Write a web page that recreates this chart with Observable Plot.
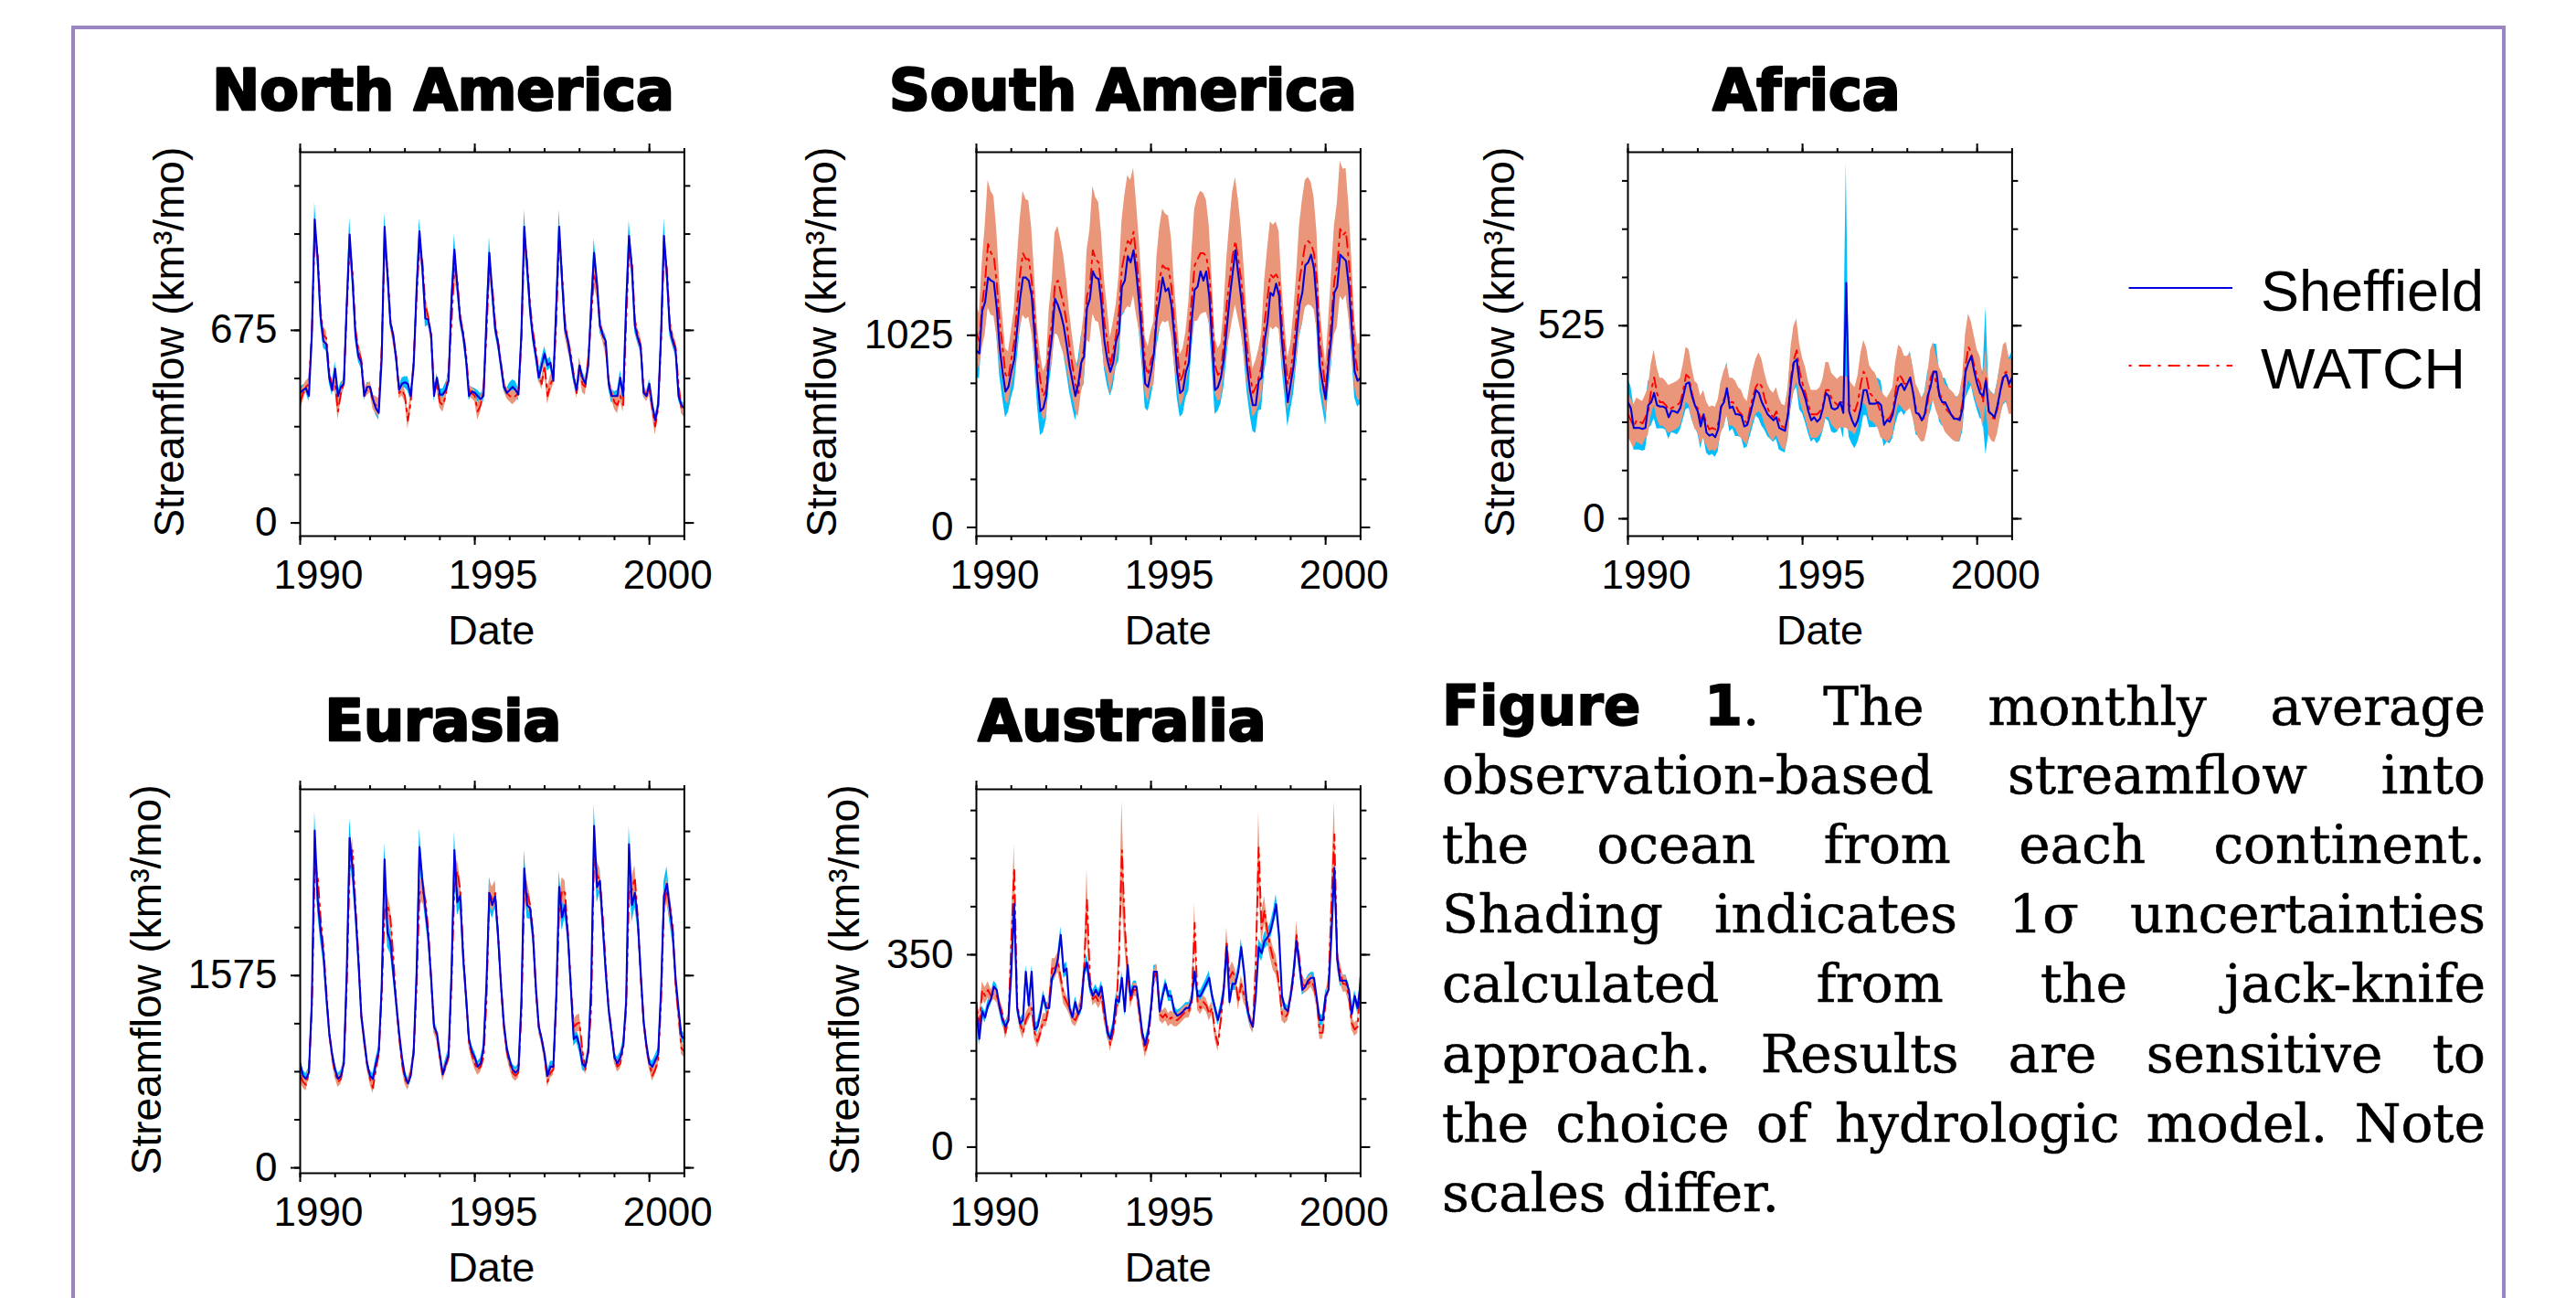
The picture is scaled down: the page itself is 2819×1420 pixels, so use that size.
<!DOCTYPE html>
<html><head><meta charset="utf-8">
<script src="https://cdn.jsdelivr.net/npm/d3@7"></script>
<script src="https://cdn.jsdelivr.net/npm/@observablehq/plot@0.6"></script>
<style>
html,body{margin:0;padding:0;background:#fff;}
#page{position:relative;width:2819px;height:1420px;overflow:hidden;background:#fff;}
.box{position:absolute;left:78px;top:28px;width:2664px;height:1500px;border:4.5px solid #9a84c2;box-sizing:border-box;}
.panel{position:absolute;}
.panel svg{max-width:none;display:block;}
#caption{position:absolute;left:1578px;top:733.6px;width:1142px;font-family:"DejaVu Serif",serif;font-size:58px;color:#000;-webkit-text-stroke:0.6px #000;}
#caption .ln{display:flex;justify-content:space-between;align-items:baseline;height:76.2px;line-height:76.2px;white-space:nowrap;}
#caption .ln.last{display:block;}
#caption .fig{font-family:"DejaVu Sans",sans-serif;font-weight:bold;font-size:60px;-webkit-text-stroke:1.6px #000;}
#overlay{position:absolute;left:0;top:0;pointer-events:none;}
</style></head>
<body><div id="page"><div class="box"></div>
<div id="caption">
<div class="ln"><span class="fig">Figure</span><span><span class="fig">1</span>.</span><span>The</span><span>monthly</span><span>average</span></div>
<div class="ln"><span>observation-based</span><span>streamflow</span><span>into</span></div>
<div class="ln"><span>the</span><span>ocean</span><span>from</span><span>each</span><span>continent.</span></div>
<div class="ln"><span>Shading</span><span>indicates</span><span>1σ</span><span>uncertainties</span></div>
<div class="ln"><span>calculated</span><span>from</span><span>the</span><span>jack-knife</span></div>
<div class="ln"><span>approach.</span><span>Results</span><span>are</span><span>sensitive</span><span>to</span></div>
<div class="ln"><span>the</span><span>choice</span><span>of</span><span>hydrologic</span><span>model.</span><span>Note</span></div>
<div class="ln last">scales differ.</div>
</div>
</div>
<script>
// ---------- DATA (monthly, Jan 1990 - Jan 2001, km^3/mo) ----------
const startYear = 1990;
const xMajorTicks = [1990, 1995, 2000];
const xMinorTicks = [1990, 1991, 1992, 1993, 1994, 1995, 1996, 1997, 1998, 1999, 2000, 2001];
const seriesNames = ["Sheffield", "WATCH"];
const panelTitles = ["North America", "South America", "Africa", "Eurasia", "Australia"];

// North America
const naYMajor = [0, 675];
const naYMinor = [0, 168.75, 337.5, 506.25, 675, 843.75, 1012.5, 1181.25];
const naSheffield = [
 456,466,472,445,658,1064,926,723,637,627,509,466,
 541,445,477,488,765,1011,851,659,584,562,445,477,
 477,434,402,386,573,1038,872,701,659,573,466,488,
 493,487,445,552,819,1022,893,717,712,659,445,509,
 450,450,466,498,787,958,830,712,659,573,445,461,
 456,445,434,445,712,947,808,680,627,552,477,456,
 466,477,466,450,659,1038,893,744,648,584,509,552,
 594,552,562,498,765,1038,851,680,637,573,509,466,
 552,509,488,552,765,947,840,691,659,637,488,445,
 445,445,509,445,765,1006,893,691,648,616,456,445,
 488,413,360,413,659,1006,872,680,637,605,445,413,
 402];
const naSheffieldSd = [
 20,18,15,20,25,60,35,30,25,25,20,20,
 25,20,15,15,30,60,35,25,20,20,15,15,
 15,20,25,25,30,50,30,20,20,20,15,20,
 20,25,20,15,30,45,30,30,20,20,20,15,
 20,20,25,20,30,55,35,20,20,20,15,15,
 15,20,20,20,30,55,30,20,20,20,15,15,
 25,25,30,20,30,60,35,25,20,20,20,25,
 25,20,20,20,30,60,35,25,20,20,20,20,
 20,20,20,20,30,50,40,25,20,20,20,25,
 15,20,25,25,30,55,35,25,20,20,15,15,
 15,20,20,15,30,60,35,25,20,20,15,15,
 15];
const naWatch = [
 423,455,477,487,658,1022,947,744,658,648,530,477,
 487,391,455,487,744,979,872,680,605,573,455,466,
 477,423,413,402,605,979,893,712,648,584,455,466,
 445,359,423,573,786,979,915,765,722,658,466,487,
 423,413,445,530,701,893,851,722,669,594,466,455,
 445,391,413,466,658,904,829,701,637,562,487,455,
 445,439,445,455,637,1000,915,765,669,605,519,487,
 552,445,487,509,701,1011,872,701,637,594,519,455,
 552,487,477,573,722,872,829,701,658,616,498,455,
 423,413,445,413,701,958,915,712,658,626,466,445,
 466,402,338,402,637,958,893,701,648,616,487,402,
 391];
const naWatchSd = [
 35,25,20,20,25,40,35,30,30,25,20,20,
 25,30,20,20,30,45,30,25,25,25,20,20,
 20,25,30,35,30,40,30,25,25,20,20,20,
 20,30,25,20,30,45,30,30,25,25,20,20,
 20,25,20,20,30,45,40,25,25,25,20,20,
 20,30,25,20,30,40,30,25,25,25,20,20,
 20,25,20,20,30,40,30,25,25,25,20,20,
 25,30,30,25,30,40,35,45,35,25,20,20,
 30,30,30,25,30,45,40,25,25,25,20,20,
 25,30,20,25,30,40,35,25,25,25,20,20,
 20,25,30,25,30,40,35,30,25,20,20,20,
 20];

// South America
const saYMajor = [0, 1025];
const saYMinor = [0, 256.25, 512.5, 768.75, 1025, 1281.25, 1537.5, 1793.75];
const saSheffield = [
 944,928,1155,1203,1333,1317,1309,1171,960,830,725,749,
 830,895,1058,1220,1333,1333,1317,1236,1025,782,620,636,
 701,895,1025,1220,1187,1139,1074,976,863,782,701,766,
 879,912,1171,1220,1366,1333,1325,1187,993,895,830,879,
 993,1041,1285,1317,1447,1414,1479,1350,1187,993,766,749,
 830,928,1122,1220,1333,1260,1276,1187,1025,830,717,733,
 830,879,1106,1268,1285,1366,1317,1366,1236,993,733,749,
 798,895,1058,1220,1350,1479,1350,1220,1058,863,733,652,
 652,782,798,993,1090,1252,1236,1301,1236,993,830,668,
 766,863,1025,1187,1252,1398,1414,1455,1382,1187,863,766,
 684,879,1025,1252,1285,1455,1439,1422,1285,1058,830,782,
 798];
const saSheffieldSd = [
 140,135,140,145,150,130,140,150,150,140,140,135,
 140,150,160,170,175,175,170,160,150,140,130,130,
 130,140,150,160,160,150,150,150,140,140,130,130,
 140,150,160,170,170,170,160,160,150,140,130,130,
 140,150,160,170,170,170,170,160,150,140,130,130,
 140,150,160,170,170,170,160,150,150,140,130,130,
 140,150,160,170,175,175,170,160,150,140,130,130,
 140,150,160,170,170,170,170,160,150,140,130,140,
 150,160,170,170,170,170,160,160,150,140,130,130,
 140,150,160,170,170,170,170,160,150,140,130,130,
 140,150,160,170,170,170,170,160,150,140,140,140,
 140];
const saWatch = [
 1041,993,1187,1317,1512,1463,1447,1301,1090,960,814,798,
 895,993,1187,1350,1463,1431,1431,1317,1122,895,782,701,
 733,993,1090,1301,1317,1252,1187,1090,960,863,766,717,
 863,960,1236,1285,1479,1431,1414,1285,1090,993,863,944,
 1025,1155,1382,1463,1528,1512,1577,1431,1285,1090,863,814,
 895,928,1220,1333,1398,1382,1382,1285,1090,944,782,814,
 895,1025,1220,1398,1431,1463,1463,1447,1350,1122,863,814,
 830,976,1187,1317,1447,1528,1431,1317,1155,960,830,717,
 749,798,863,1090,1220,1350,1333,1350,1317,1090,928,766,
 830,960,1122,1317,1414,1512,1528,1512,1463,1317,993,863,
 733,928,1122,1317,1398,1593,1560,1577,1414,1187,928,830,
 830];
const saWatchSd = [
 140,150,230,290,340,330,320,280,220,170,140,140,
 150,170,230,290,330,320,310,280,220,170,140,130,
 140,170,220,270,290,280,260,230,190,160,140,130,
 150,180,240,300,340,330,320,280,230,180,150,150,
 160,190,250,310,350,340,340,300,240,190,150,150,
 150,170,220,270,300,290,280,260,220,170,140,140,
 150,180,240,300,330,330,320,300,260,200,150,140,
 150,180,240,300,340,340,320,280,230,180,150,130,
 140,150,170,220,260,280,280,280,260,200,160,140,
 150,180,230,290,330,340,340,330,300,260,190,160,
 140,170,230,290,330,360,350,340,300,240,180,150,
 150];

// Africa
const afYMajor = [0, 525];
const afYMinor = [0, 131.25, 262.5, 393.75, 525, 656.25, 787.5, 918.75];
const afSheffield = [
 317,301,247,247,247,244,247,309,317,342,309,305,
 305,301,276,294,292,288,301,334,367,371,334,309,
 292,251,284,234,226,230,222,243,305,317,355,301,
 305,284,284,280,251,255,284,317,350,342,317,301,
 284,276,268,276,247,243,239,284,367,425,433,367,
 350,326,292,268,276,264,272,301,342,334,301,297,
 301,317,288,641,292,268,251,268,301,350,350,313,
 313,313,317,309,255,268,264,284,326,359,367,350,
 367,384,342,288,284,268,284,334,359,400,400,334,
 317,317,301,284,272,272,268,301,400,425,442,400,
 367,342,334,375,292,284,276,309,350,384,392,367,
 384];
const afSheffieldSd = [
 60,60,60,60,60,60,60,65,65,70,65,60,
 60,60,60,60,60,60,60,65,70,70,65,60,
 60,60,60,55,55,55,55,60,65,70,70,65,
 60,60,60,60,60,60,60,65,70,70,65,60,
 60,60,60,60,60,60,60,65,70,80,75,70,
 65,65,60,60,60,60,60,65,70,70,65,65,
 65,65,70,330,70,65,60,60,65,70,70,65,
 65,65,65,65,60,60,60,65,70,75,75,70,
 70,70,65,60,60,60,60,65,70,75,75,70,
 65,65,60,60,60,60,60,65,75,80,80,75,
 70,70,65,200,60,60,60,65,70,75,75,70,
 70];
const afWatch = [
 284,268,251,268,264,259,276,292,350,384,342,317,
 317,309,297,301,305,309,317,350,392,384,342,309,
 301,268,284,259,243,247,243,259,301,326,350,317,
 317,309,292,284,268,259,301,334,359,371,359,326,
 301,284,276,292,268,251,247,284,384,433,458,400,
 367,342,309,284,284,284,292,309,350,350,326,317,
 309,317,317,317,309,301,292,317,367,400,384,342,
 334,326,309,284,276,268,276,292,350,392,384,367,
 367,375,342,301,284,268,276,317,384,400,367,342,
 326,301,292,284,276,268,276,317,417,467,450,417,
 384,367,317,384,292,276,272,301,350,392,400,359,
 359];
const afWatchSd = [
 60,60,60,60,60,60,60,65,70,75,70,65,
 65,65,65,65,65,65,65,70,75,75,70,65,
 65,65,65,60,60,60,60,65,70,75,70,65,
 65,65,65,65,60,60,65,70,75,80,75,70,
 65,65,65,65,60,60,60,70,80,90,85,75,
 70,70,65,65,65,65,65,70,75,75,70,70,
 70,70,70,70,70,65,65,70,80,85,80,75,
 70,70,65,65,60,60,65,65,75,80,80,75,
 75,75,70,65,65,60,65,70,75,80,75,70,
 70,65,65,65,65,60,65,70,85,90,85,80,
 75,75,70,75,65,65,65,70,75,80,80,75,
 75];

// Eurasia
const euYMajor = [0, 1575];
const euYMinor = [0, 393.75, 787.5, 1181.25, 1575, 1968.75, 2362.5, 2756.25];
const euSheffield = [
 854,754,729,779,1354,2764,2200,1950,1750,1400,1104,929,
 804,729,754,854,1603,2702,2450,2100,1700,1250,1054,854,
 754,729,854,954,1478,2527,1928,1853,1600,1354,1104,900,
 754,692,754,954,1600,2627,2352,2127,1900,1553,1154,1104,
 929,767,850,929,1600,2602,2177,2227,1728,1404,1054,954,
 904,829,854,979,1503,2252,2152,2227,1903,1503,1179,979,
 879,804,779,804,1354,2452,2152,2127,1903,1478,1154,1054,
 929,754,829,829,1404,2302,2052,2152,1903,1478,1054,1079,
 1000,850,829,954,1500,2801,2300,2352,1978,1603,1300,1104,
 904,854,904,1004,1354,2652,2152,2252,2027,1603,1204,1004,
 854,829,879,929,1453,2227,2327,2127,1928,1553,1304,1079,
 1054];
const euSheffieldSd = [
 50,45,45,45,60,160,110,100,80,60,50,45,
 45,45,45,45,60,160,110,90,70,60,50,45,
 45,45,45,45,60,140,120,100,70,60,50,45,
 45,45,45,45,60,150,110,90,70,60,50,45,
 45,45,45,45,60,150,110,100,70,60,50,45,
 45,45,45,45,60,130,110,100,70,60,50,45,
 45,45,45,45,60,150,110,90,70,60,50,45,
 45,45,45,45,60,130,110,100,70,60,60,50,
 60,50,45,45,60,180,130,100,70,60,50,45,
 45,50,45,45,60,150,140,120,80,60,50,45,
 45,45,45,50,60,120,140,120,90,70,50,45,
 45];
const euWatch = [
 754,704,679,779,1304,2452,2400,2050,1800,1450,1104,904,
 779,704,729,854,1478,2450,2602,2150,1750,1250,1029,854,
 729,654,804,929,1404,2102,2152,2052,1728,1354,1079,854,
 729,679,779,929,1478,2252,2277,2202,1953,1553,1154,1079,
 904,754,829,904,1503,2302,2427,2277,1778,1404,1029,929,
 854,804,829,904,1354,2252,2202,2252,1928,1503,1154,954,
 854,779,754,779,1254,2277,2252,2152,1928,1453,1154,1054,
 904,704,779,804,1354,2102,2277,2252,1928,1503,1154,1179,
 1190,954,804,954,1303,2602,2402,2352,2052,1654,1304,1129,
 904,829,854,979,1304,2252,2277,2377,2052,1578,1204,979,
 854,754,804,879,1354,2152,2277,2152,1978,1503,1254,979,
 954];
const euWatchSd = [
 50,50,50,45,60,100,90,80,70,60,50,45,
 45,45,45,45,60,100,100,80,70,60,50,45,
 45,45,45,45,60,100,90,90,70,60,50,45,
 45,45,45,45,60,100,100,90,70,60,50,45,
 45,45,45,45,60,100,100,90,70,60,50,45,
 45,45,45,45,60,100,100,100,70,60,50,45,
 45,45,45,45,60,100,100,80,70,60,50,45,
 45,45,45,45,60,100,100,100,70,60,60,70,
 70,60,45,45,60,110,110,100,80,60,50,45,
 45,45,45,45,60,100,110,100,80,60,50,45,
 45,45,45,45,60,100,110,100,90,70,60,50,
 50];

// Australia
const auYMajor = [0, 350];
const auYMinor = [0, 87.5, 175, 262.5, 350, 437.5, 525, 612.5];
const auSheffield = [
 247,197,247,236,258,269,292,286,253,231,219,231,
 319,442,253,225,231,319,258,319,214,219,242,275,
 253,253,308,319,342,386,319,325,253,236,264,242,
 253,319,336,292,275,286,275,292,253,208,197,219,
 269,264,308,247,331,275,292,292,253,208,186,208,
 253,319,319,247,275,297,275,275,247,239,242,247,
 253,253,269,319,275,275,286,297,308,275,253,231,
 253,286,364,264,297,297,319,364,319,253,231,219,
 275,364,353,375,381,392,414,442,386,275,253,247,
 275,319,375,331,286,292,303,308,308,269,231,231,
 275,286,386,508,342,303,303,303,286,242,275,253,
 297];
const auSheffieldSd = [
 12,12,10,10,10,10,10,10,10,10,10,10,
 15,25,10,10,10,12,10,12,10,10,10,10,
 10,10,10,12,12,15,12,12,10,10,10,10,
 10,12,15,10,10,10,10,10,10,10,10,10,
 10,10,12,10,12,10,10,10,10,10,10,10,
 10,12,12,10,10,10,10,10,10,10,10,10,
 10,10,10,12,10,10,10,10,12,10,10,10,
 10,10,15,10,12,12,12,15,12,10,10,10,
 12,15,15,15,15,15,15,18,15,10,10,10,
 10,12,15,12,10,10,10,10,10,10,10,10,
 10,10,15,25,12,10,10,10,10,10,10,10,
 10];
const auWatch = [
 264,219,286,275,286,275,281,275,258,242,208,231,
 375,508,264,225,208,231,242,253,208,192,208,231,
 231,264,325,325,336,308,275,264,253,236,231,242,
 264,319,450,308,269,275,264,275,236,219,186,208,
 242,342,540,403,319,264,286,286,242,203,175,192,
 247,308,319,242,236,242,231,236,231,231,236,242,
 247,247,264,408,264,253,264,258,242,253,208,186,
 231,286,375,308,319,308,264,297,275,264,231,219,
 331,545,397,431,392,364,342,331,297,242,236,242,
 275,308,386,342,297,292,297,303,292,264,208,208,
 264,297,442,569,342,319,297,297,275,225,214,219,
 314];
const auWatchSd = [
 15,15,15,15,15,12,12,12,12,12,12,12,
 25,42,15,12,12,12,12,12,12,12,12,12,
 12,15,18,18,18,15,15,12,12,12,12,12,
 12,20,55,15,12,12,12,12,12,12,12,12,
 15,30,90,40,15,12,12,12,12,12,12,12,
 12,15,15,12,12,12,12,12,12,12,12,12,
 12,12,15,35,15,12,12,12,12,12,12,12,
 12,15,25,18,18,15,15,15,15,12,12,12,
 20,65,30,25,20,20,20,18,15,12,12,12,
 12,15,25,18,15,12,12,12,12,12,12,12,
 12,15,30,60,20,18,15,15,12,12,12,12,
 12];

// ---------- LAYOUT ----------
const COL = {sheffield: "#0000dd", watch: "#ff0000", sheffieldBand: "#00bfff", watchBand: "#e9967a"};
const DASH = "12,6,3,6";
const FW = 420.4, FH = 420, ML = 160, MR = 50, MT = 20, MB = 80;

const panels = [
  {title: panelTitles[0], fx: 327.6, fy: 166, yDomain: [-46.1, 1299.4], yMajor: naYMajor, yMinor: naYMinor, s: naSheffield, ss: naSheffieldSd, w: naWatch, ws: naWatchSd, tx: 485, ty: 120.3, lx: 201, ly: 374.2, dy: 704.8},
  {title: panelTitles[1], fx: 1068, fy: 166, yDomain: [-46.3, 2001.8], yMajor: saYMajor, yMinor: saYMinor, s: saSheffield, ss: saSheffieldSd, w: saWatch, ws: saWatchSd, tx: 1229, ty: 120.3, lx: 915, ly: 374.2, dy: 704.8},
  {title: panelTitles[2], fx: 1781.4, fy: 166, yDomain: [-47.2, 996.8], yMajor: afYMajor, yMinor: afYMinor, s: afSheffield, ss: afSheffieldSd, w: afWatch, ws: afWatchSd, tx: 1977, ty: 120.3, lx: 1657, ly: 374.2, dy: 704.8},
  {title: panelTitles[3], fx: 327.6, fy: 863, yDomain: [-44.2, 3101], yMajor: euYMajor, yMinor: euYMinor, s: euSheffield, ss: euSheffieldSd, w: euWatch, ws: euWatchSd, tx: 485, ty: 810.2, lx: 176, ly: 1071.9, dy: 1401.6},
  {title: panelTitles[4], fx: 1068, fy: 863, yDomain: [-47.5, 651], yMajor: auYMajor, yMinor: auYMinor, s: auSheffield, ss: auSheffieldSd, w: auWatch, ws: auWatchSd, tx: 1228, ty: 810.2, lx: 940, ly: 1071.9, dy: 1401.6}
];

const page = document.getElementById("page");
const blank = () => "";

for (const p of panels) {
  const data = p.s.map((v, i) => ({t: startYear + i / 12, s: v, ss: p.ss[i], w: p.w[i], ws: p.ws[i]}));
  const chart = Plot.plot({
    width: ML + FW + MR, height: MT + FH + MB,
    marginLeft: ML, marginRight: MR, marginTop: MT, marginBottom: MB,
    x: {domain: [1990, 2001], label: null},
    y: {domain: p.yDomain, label: null},
    style: {fontFamily: "'Liberation Sans', Arial, sans-serif", fontSize: "44px", color: "black", background: "transparent", overflow: "visible"},
    marks: [
      Plot.areaY(data, {x: "t", y1: d => d.s - d.ss, y2: d => d.s + d.ss, fill: COL.sheffieldBand, clip: true}),
      Plot.areaY(data, {x: "t", y1: d => d.w - d.ws, y2: d => d.w + d.ws, fill: COL.watchBand, clip: true}),
      Plot.lineY(data, {x: "t", y: "w", stroke: COL.watch, strokeWidth: 1.9, strokeDasharray: DASH, clip: true}),
      Plot.lineY(data, {x: "t", y: "s", stroke: COL.sheffield, strokeWidth: 2.1, clip: true}),
      Plot.axisX({anchor: "bottom", ticks: xMinorTicks, tickSize: 5, tickFormat: blank, strokeWidth: 2, label: null}),
      Plot.axisX({anchor: "top", ticks: xMinorTicks, tickSize: 5, tickFormat: blank, strokeWidth: 2, label: null}),
      Plot.axisX({anchor: "bottom", ticks: xMajorTicks, tickSize: 10, tickFormat: blank, strokeWidth: 2, label: null}),
      Plot.axisX({anchor: "bottom", ticks: xMajorTicks, tickSize: 0, tickPadding: 26, dx: 20, tickFormat: d => String(d), label: null}),
      Plot.axisX({anchor: "top", ticks: xMajorTicks, tickSize: 10, tickFormat: blank, strokeWidth: 2, label: null}),
      Plot.axisY({anchor: "left", ticks: p.yMinor, tickSize: 6, tickFormat: blank, strokeWidth: 2, label: null}),
      Plot.axisY({anchor: "right", ticks: p.yMinor, tickSize: 6, tickFormat: blank, strokeWidth: 2, label: null}),
      Plot.axisY({anchor: "left", ticks: p.yMajor, tickSize: 10, tickPadding: 15, tickFormat: d => String(d), strokeWidth: 2, label: null}),
      Plot.axisY({anchor: "right", ticks: p.yMajor, tickSize: 10, tickFormat: blank, strokeWidth: 2, label: null}),
      Plot.frame({stroke: "black", strokeWidth: 2})
    ]
  });
  const div = document.createElement("div");
  div.className = "panel";
  div.style.left = (p.fx - ML) + "px";
  div.style.top = (p.fy - MT) + "px";
  div.appendChild(chart);
  page.appendChild(div);
}

// ---------- TEXT OVERLAY (titles, axis labels, legend) ----------
const NS = "http://www.w3.org/2000/svg";
const ov = document.createElementNS(NS, "svg");
ov.setAttribute("id", "overlay");
ov.setAttribute("width", 2819);
ov.setAttribute("height", 1420);
function txt(x, y, s, attrs) {
  const t = document.createElementNS(NS, "text");
  t.setAttribute("x", x); t.setAttribute("y", y);
  for (const k in attrs) t.setAttribute(k, attrs[k]);
  t.textContent = s;
  ov.appendChild(t);
  return t;
}
const sans = "'Liberation Sans', Arial, sans-serif";
for (const p of panels) {
  txt(p.tx, p.ty, p.title, {"text-anchor": "middle", "font-family": "'DejaVu Sans', sans-serif", "font-weight": "bold", "font-size": 62, stroke: "#000", "stroke-width": 2.6, "stroke-linejoin": "round"});
  txt(0, 0, "Streamflow (km³/mo)", {"text-anchor": "middle", "font-family": sans, "font-size": 46, transform: `translate(${p.lx},${p.ly}) rotate(-90)`});
  txt(p.fx + FW / 2, p.dy, "Date", {"text-anchor": "middle", "font-family": sans, "font-size": 45});
}
// legend
const legendRows = [
  {name: seriesNames[0], y: 315, base: 340, stroke: COL.sheffield, dash: null},
  {name: seriesNames[1], y: 400, base: 425, stroke: COL.watch, dash: "3,8,13,8"}
];
for (const r of legendRows) {
  const l = document.createElementNS(NS, "line");
  l.setAttribute("x1", 2329.6); l.setAttribute("x2", 2443);
  l.setAttribute("y1", r.y); l.setAttribute("y2", r.y);
  l.setAttribute("stroke", r.stroke); l.setAttribute("stroke-width", 2);
  if (r.dash) { l.setAttribute("stroke-dasharray", r.dash); }
  ov.appendChild(l);
  txt(2474, r.base, r.name, {"font-family": sans, "font-size": 63});
}
page.appendChild(ov);
</script>
</body></html>
